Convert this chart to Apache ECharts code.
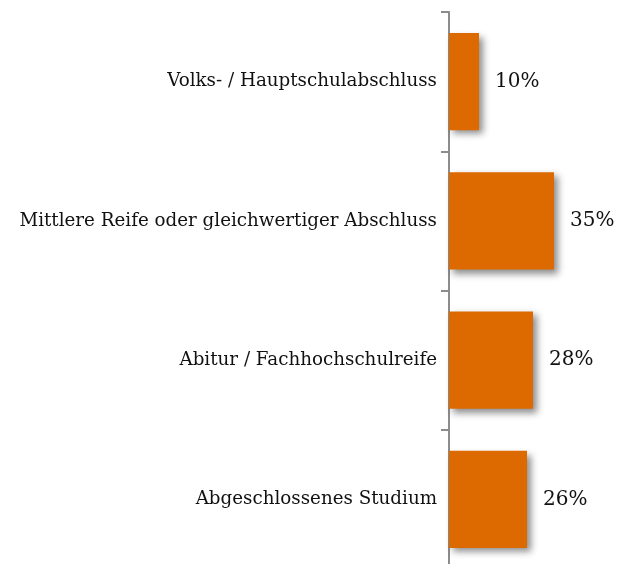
<!DOCTYPE html>
<html>
<head>
<meta charset="utf-8">
<script src="https://cdn.jsdelivr.net/npm/echarts@6/dist/echarts.min.js"></script>
<style>
  html, body { margin: 0; padding: 0; background: #fff; overflow: hidden; }
  /* axis runs past the bottom edge in the original, so the canvas is a bit taller */
  #main { width: 623px; height: 569px; }
</style>
</head>
<body>
<div id="main"></div>
<script>
  const categories = [
    'Volks- / Hauptschulabschluss',
    'Mittlere Reife oder gleichwertiger Abschluss',
    'Abitur / Fachhochschulreife',
    'Abgeschlossenes Studium'
  ]
  const shares = [10, 35, 28, 26]

  const serif = 'Georgia, "DejaVu Serif", serif'
  const chart = echarts.init(document.getElementById('main'))

  chart.setOption({
    animation: false,
    grid: {
      left: 449,
      top: 12,
      width: 150,
      bottom: 0,
      containLabel: false
    },
    xAxis: {
      type: 'value',
      min: 0,
      max: 50,
      show: false
    },
    yAxis: {
      type: 'category',
      data: categories,
      inverse: true,
      axisLine: { show: true, lineStyle: { color: '#8c8c8c', width: 2 } },
      axisTick: { show: true, length: 8, inside: false, lineStyle: { color: '#8c8c8c', width: 2 } },
      axisLabel: {
        margin: 12,
        color: '#111',
        fontFamily: serif,
        fontSize: 18.3
      }
    },
    series: [{
      type: 'bar',
      data: shares,
      barCategoryGap: '30%',
      itemStyle: {
        color: '#DD6A00',
        shadowColor: 'rgba(0, 0, 0, 0.45)',
        shadowBlur: 7,
        shadowOffsetX: 4,
        shadowOffsetY: 4
      },
      label: {
        show: true,
        position: 'right',
        distance: 16,
        formatter: '{c}%',
        color: '#111',
        fontFamily: serif,
        fontSize: 20
      }
    }]
  })
</script>
</body>
</html>
